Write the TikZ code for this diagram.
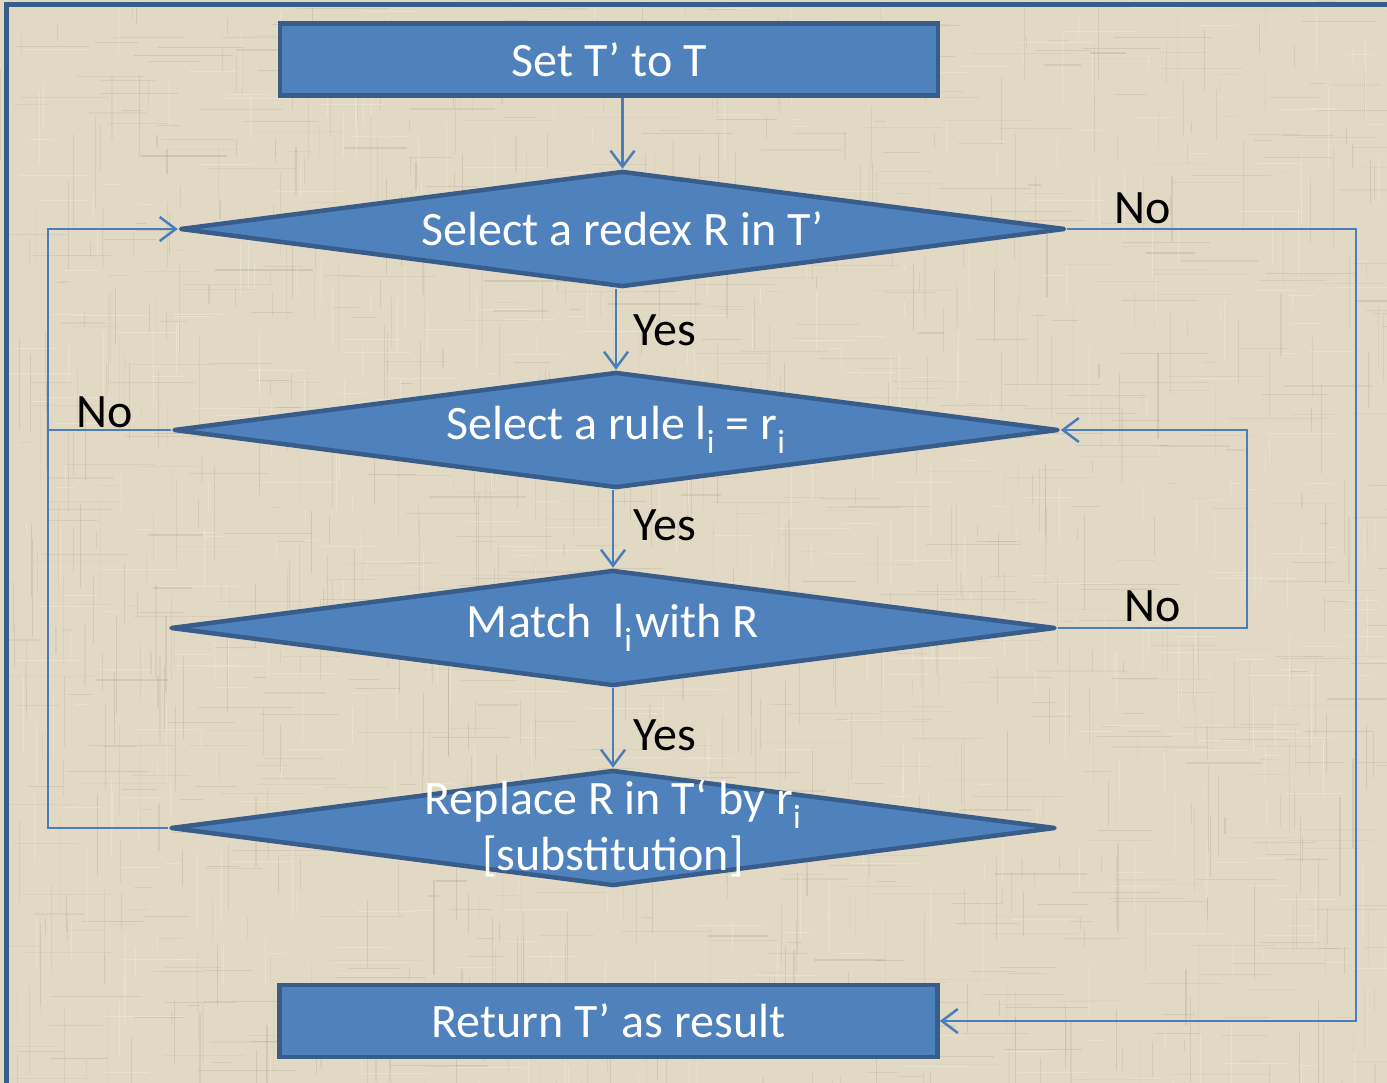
\documentclass[tikz,border=0pt]{standalone}
\usepackage{fontspec}
\setmainfont{Carlito}
\usetikzlibrary{shapes.geometric,arrows.meta}

\definecolor{linen}{HTML}{E2D9C5}
\definecolor{weave}{HTML}{938670}
\definecolor{thread}{HTML}{F6F1E6}
\definecolor{boxfill}{HTML}{4F81BD}
\definecolor{boxedge}{HTML}{385D8A}
\definecolor{flow}{HTML}{4A7EBB}

\begin{document}
\begin{tikzpicture}[x=1pt,y=-1pt,
  every node/.style={font=\fontsize{48}{56}\selectfont},
  procbox/.style={rectangle, draw=boxedge, fill=boxfill, line width=4.5pt,
    minimum width=658pt, minimum height=72pt, text=white, inner sep=0pt},
  decision/.style={diamond, draw=boxedge, fill=boxfill, line width=4.5pt,
    line join=round, minimum width=885pt, minimum height=116pt, inner sep=0pt},
  intext/.style={text=white, align=center},
  answer/.style={text=black},
  flowline/.style={draw=flow, line width=2.5pt},
  flowarrow/.style={flowline,
    -{Straight Barb[length=16pt,width=24pt,line width=2.5pt]}}
]
% linen background
\fill[linen] (0,0) rectangle (1387,1083);
\useasboundingbox (0,0) rectangle (1387,1083);
\pgfmathsetseed{11}
\foreach \i in {1,...,700}{
  \pgfmathsetmacro\xa{rnd*1387}
  \pgfmathsetmacro\ya{rnd*1083}
  \pgfmathsetmacro\len{10+rnd*90}
  \pgfmathsetmacro\op{0.06+rnd*0.16}
  \draw[weave, line width=1.1pt, opacity=\op] (\xa,\ya) -- ++(\len,0);
  \pgfmathsetmacro\xb{rnd*1387}
  \pgfmathsetmacro\yb{rnd*1083}
  \pgfmathsetmacro\lenb{10+rnd*90}
  \pgfmathsetmacro\opb{0.06+rnd*0.16}
  \draw[weave, line width=1.1pt, opacity=\opb] (\xb,\yb) -- ++(0,\lenb);
}
\foreach \i in {1,...,300}{
  \pgfmathsetmacro\xa{rnd*1387}
  \pgfmathsetmacro\ya{rnd*1083}
  \pgfmathsetmacro\len{10+rnd*70}
  \draw[thread, line width=1pt, opacity=0.35] (\xa,\ya) -- ++(\len,0);
  \pgfmathsetmacro\xb{rnd*1387}
  \pgfmathsetmacro\yb{rnd*1083}
  \draw[thread, line width=1pt, opacity=0.35] (\xb,\yb) -- ++(0,\len);
}

% frame
\draw[boxedge, line width=5pt] (6.5,1083) -- (6.5,5) -- (1387,5);

% rails for the loops
\coordinate (leftrail) at (48,0);
\coordinate (innerright) at (1247,0);
\coordinate (outerright) at (1356,0);

% steps
\node[procbox] (start) at (609,59.5) {Set T’ to T};
\node[decision, label={[intext]center:Select a redex R in T’}] (redex) at (622.5,229) {};
\node[decision, label={[intext]center:Select a rule l\textsubscript{i} = r\textsubscript{i}}] (rule) at (616,430) {};
\node[decision, label={[intext]center:Match\ \ l\textsubscript{i}\kern3pt with R}] (match) at (613,628) {};
\node[decision, label={[intext]center:Replace R in T{\char"60} by r\textsubscript{i}\\{[substitution]}}] (replace) at (613,828) {};
\node[procbox] (result) at (608.5,1021) {Return T’ as result};

% main flow
\draw[flowarrow] (start.south -| redex.north) -- (redex.north);
\draw[flowarrow] (redex.south -| rule.north) -- (rule.north);
\draw[flowarrow] (rule.south -| match.north) -- (match.north);
\draw[flowarrow] (match.south -| replace.north) -- (replace.north);

% loops
\draw[flowarrow] (redex.east) -- (redex.east -| outerright) |- (result.east);
\draw[flowarrow] (match.east) -- (match.east -| innerright) |- (rule.east);
\draw[flowline] (rule.west) -- (rule.west -| leftrail);
\draw[flowarrow] (replace.west) -- (replace.west -| leftrail) |- (redex.west);

% answers
\node[answer] (yes1) at (665,330) {Yes};
\node[answer] (yes2) at (665,525) {Yes};
\node[answer] (yes3) at (665,735) {Yes};
\node[answer] (no1) at (1143,208) {No};
\node[answer] (no2) at (1153,606) {No};
\node[answer] (no3) at (105,412) {No};
\end{tikzpicture}
\end{document}
